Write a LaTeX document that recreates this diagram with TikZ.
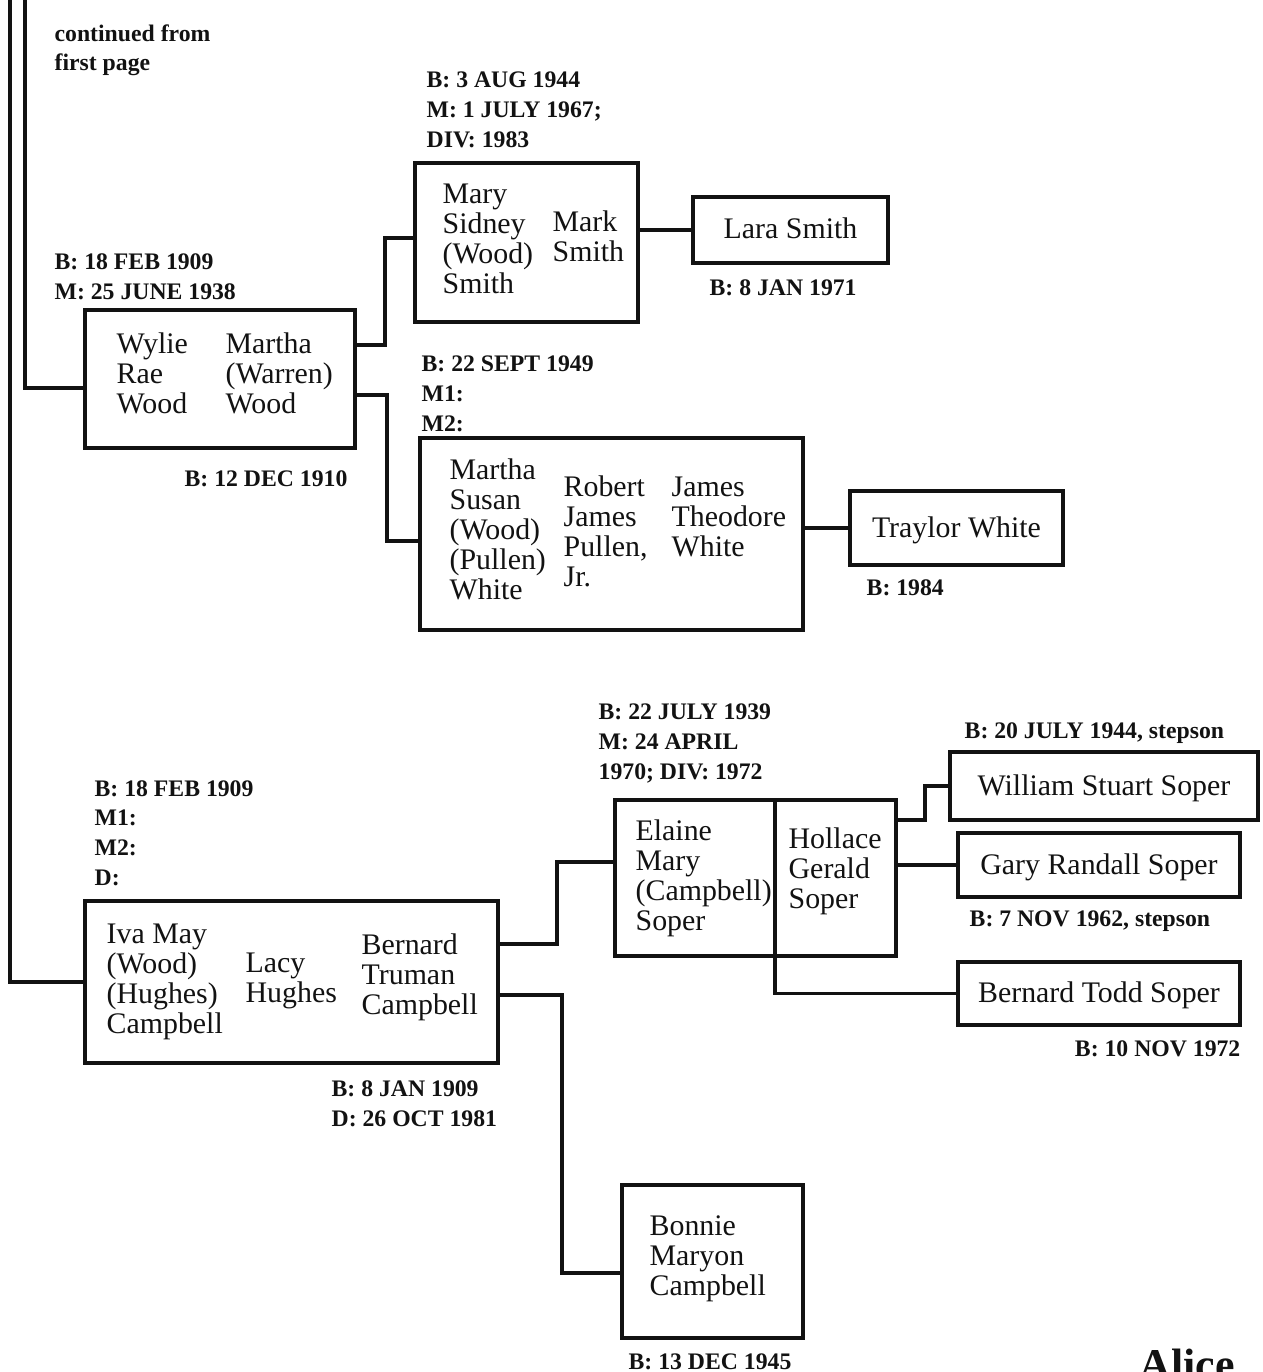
\documentclass[tikz,border=0pt]{standalone}
\usepackage{fontspec}
\setmainfont{Liberation Serif}
\usetikzlibrary{fit}
\definecolor{ink}{RGB}{18,18,18}
\def\lw{1.9pt}
\newcommand\namefont{\fontsize{17}{17}\selectfont}
\newcommand\datefont{\fontsize{13.5}{16.8}\selectfont\bfseries}

\begin{document}
\begin{tikzpicture}[x=0.02cm, y=-0.02cm, color=ink, line width=\lw,
  box/.style={draw, rectangle, inner sep=0pt, outer sep=0pt},
  names/.style={anchor=base west, align=left, inner sep=0pt, font=\namefont},
  single/.style={anchor=base, inner sep=0pt, font=\namefont, yshift=-0.18cm},
  dates/.style={anchor=base west, align=left, inner sep=0pt, font=\datefont}]
\useasboundingbox (0,0) rectangle (1262,1372);
% boxes of the couples and of the children
\node[box, fit={(85,310) (355,448)}] (wood) {};
\node[box, fit={(415,163) (638,322)}] (smith) {};
\node[box, fit={(693,197) (888,263)}] (lara) {};
\node[box, fit={(420,438) (803,630)}] (white) {};
\node[box, fit={(850,491) (1063,565)}] (traylor) {};
\node[box, fit={(85,901) (498,1063)}] (iva) {};
\node[box, fit={(615,800) (775,956)}] (elaine) {};
\node[box, fit={(775,800) (896,956)}] (hollace) {};
\node[box, fit={(950,752) (1258,820)}] (william) {};
\node[box, fit={(958,833) (1240,897)}] (gary) {};
\node[box, fit={(958,962) (1240,1025)}] (todd) {};
\node[box, fit={(622,1185) (803,1338)}] (bonnie) {};
% lines down the page
\draw (10,0) |- (iva.west);
\draw (25,0) |- (wood.west |- 0,388);
\draw (wood.east |- 0,345) -- (385,345) |- (smith.west |- 0,238);
\draw (wood.east |- 0,395) -- (387,395) |- (white.west |- 0,541);
\draw (smith.east |- lara.west) -- (lara.west);
\draw (white.east |- traylor.west) -- (traylor.west);
\draw (iva.east |- 0,944) -- (557,944) |- (elaine.west |- 0,862);
\draw (iva.east |- 0,995) -- (562,995) |- (bonnie.west |- 0,1273);
\draw (hollace.east |- 0,820) -- (925,820) |- (william.west);
\draw (hollace.east |- gary.west) -- (gary.west);
\draw (hollace.south west) |- (todd.west);
% names (base = last line)
\node[names] (wylie) at (115,413) {Wylie\\Rae\\Wood};
\node[names] (marthaW) at (224,413) {Martha\\(Warren)\\Wood};
\node[names] (mary) at (441,293) {Mary\\Sidney\\(Wood)\\Smith};
\node[names] (mark) at (551,261) {Mark\\Smith};
\node[single] (laraN) at (lara.center) {Lara Smith};
\node[names] (marthaS) at (448,599) {Martha\\Susan\\(Wood)\\(Pullen)\\White};
\node[names] (robert) at (562,586) {Robert\\James\\Pullen,\\Jr.};
\node[names] (james) at (670,556) {James\\Theodore\\White};
\node[single] (traylorN) at (traylor.center) {Traylor White};
\node[names] (ivaN) at (105,1033) {Iva May\\(Wood)\\(Hughes)\\Campbell};
\node[names] (lacy) at (244,1002) {Lacy\\Hughes};
\node[names] (bernardT) at (360,1014) {Bernard\\Truman\\Campbell};
\node[names] (elaineN) at (634,930) {Elaine\\Mary\\(Campbell)\\Soper};
\node[names] (hollaceN) at (787,908) {Hollace\\Gerald\\Soper};
\node[single] (williamN) at (william.center) {William Stuart Soper};
\node[single] (garyN) at (gary.center) {Gary Randall Soper};
\node[single] (toddN) at (todd.center) {Bernard Todd Soper};
\node[names] (bonnieN) at (648,1295) {Bonnie\\Maryon\\Campbell};
% dates
\node[dates] (cont) at (53,71) {continued from\\first page};
\node[dates] (woodD) at (53,299) {B: 18 FEB 1909\\M: 25 JUNE 1938};
\node[dates] (marthaWD) at (183,486) {B: 12 DEC 1910};
\node[dates] (smithD) at (425,147) {B: 3 AUG 1944\\M: 1 JULY 1967;\\DIV: 1983};
\node[dates] (laraD) at (708,295) {B: 8 JAN 1971};
\node[dates] (whiteD) at (420,431) {B: 22 SEPT 1949\\M1:\\M2:};
\node[dates] (traylorD) at (865,595) {B: 1984};
\node[dates] (ivaD) at (93,885) {B: 18 FEB 1909\\M1:\\M2:\\D:};
\node[dates] (bernardD) at (330,1126) {B: 8 JAN 1909\\D: 26 OCT 1981};
\node[dates] (soperD) at (597,779) {B: 22 JULY 1939\\M: 24 APRIL\\1970; DIV: 1972};
\node[dates] (williamD) at (963,738) {B: 20 JULY 1944, stepson};
\node[dates] (garyD) at (968,926) {B: 7 NOV 1962, stepson};
\node[dates, anchor=base east] (toddD) at (1242,1056) {B: 10 NOV 1972};
\node[dates] (bonnieD) at (627,1369) {B: 13 DEC 1945};
\node[anchor=base west, inner sep=0pt, font=\fontsize{25}{25}\selectfont\bfseries] (alice) at (1138,1379) {Alice};
\end{tikzpicture}
\end{document}
